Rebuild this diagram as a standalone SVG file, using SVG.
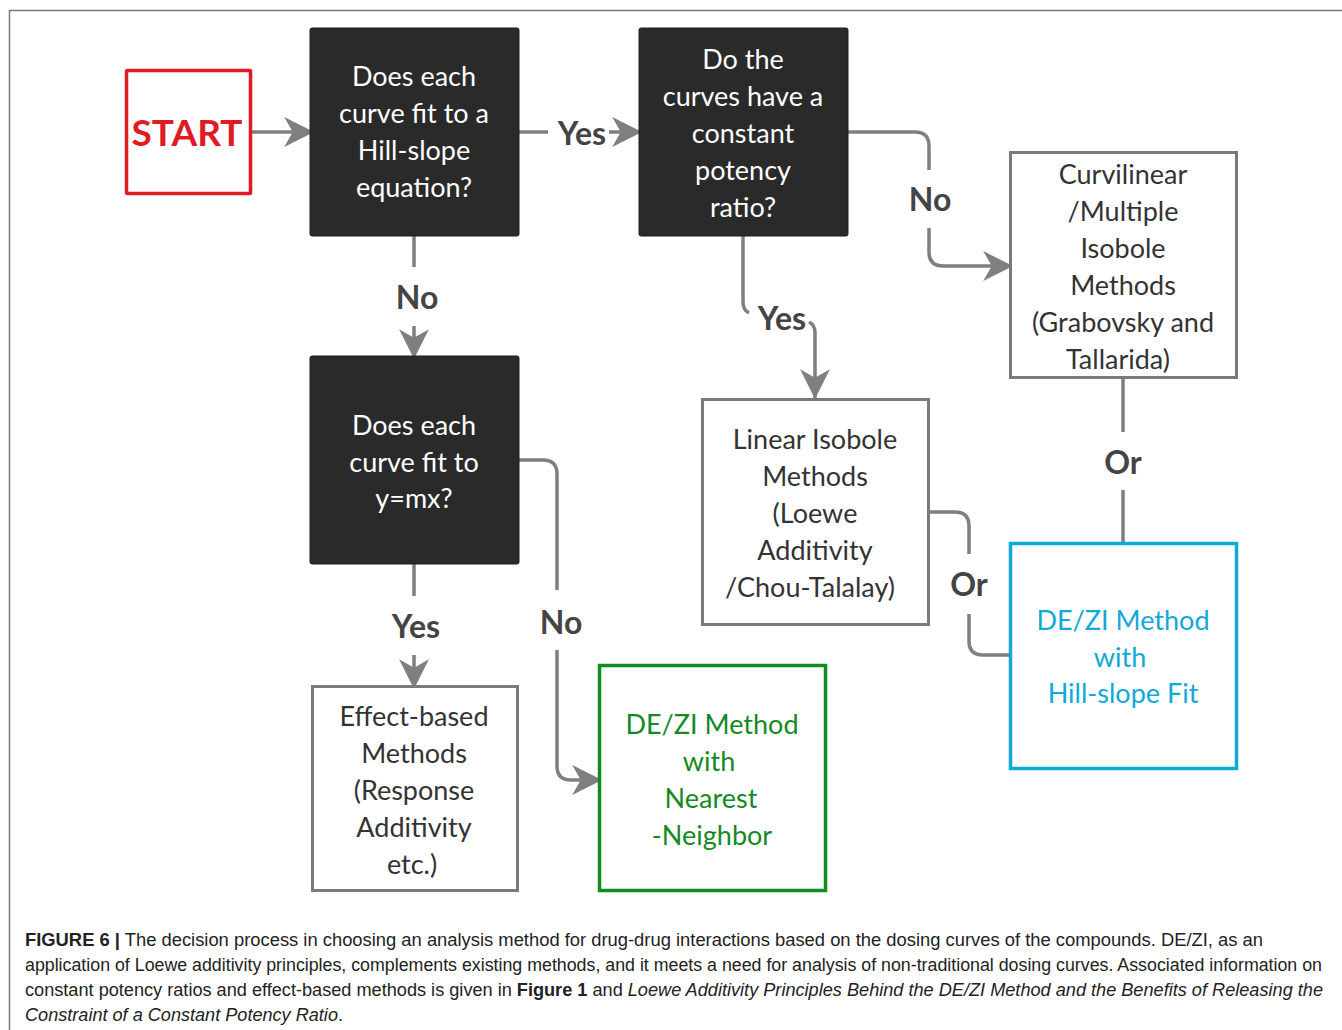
<svg xmlns="http://www.w3.org/2000/svg" width="1342" height="1030" viewBox="0 0 1342 1030">
<style>
.t{font-family:Lato,"Liberation Sans",sans-serif;font-size:27px;text-anchor:middle;dominant-baseline:central}
.w{fill:#ffffff}
.g{fill:#333333}
.lbl{font-family:Lato,"Liberation Sans",sans-serif;font-size:32px;font-weight:700;fill:#444444;text-anchor:middle;dominant-baseline:central}
.dark{fill:#2a2a2a;stroke:#1e1e1e;stroke-width:1}
.plain{fill:#ffffff;stroke:#7a7a7a;stroke-width:3}
.c{fill:none;stroke:#7f7f7f;stroke-width:3.5}
.cap{font-family:"Liberation Sans",Arial,sans-serif;font-size:17.5px;fill:#222222}
</style>
<defs>
<marker id="ah" viewBox="0 0 30 30" refX="28" refY="15" markerWidth="32" markerHeight="32" markerUnits="userSpaceOnUse" orient="auto">
<path d="M1,1 L29,15 L1,29 L9,15 Z" fill="#7f7f7f"/>
</marker>
</defs>
<rect width="1342" height="1030" fill="#ffffff"/>
<path d="M9.5,1030 V10.5 H1342" fill="none" stroke="#7a7a7a" stroke-width="1.5"/>

<g id="connectors">
<path class="c" d="M251,132 H313" marker-end="url(#ah)"/>
<path class="c" d="M519,132 H548"/>
<path class="c" d="M609,132 H641" marker-end="url(#ah)"/>
<text class="lbl" x="582" y="132">Yes</text>
<path class="c" d="M848,132 H915 q14,0 14,14 V170"/>
<text class="lbl" x="930" y="198">No</text>
<path class="c" d="M929,228 V252 q0,14 14,14 H1012" marker-end="url(#ah)"/>
<path class="c" d="M743,236 V302 q0,8 6,11"/>
<text class="lbl" x="782" y="317">Yes</text>
<path class="c" d="M809,322 q6,3 6,11 V398" marker-end="url(#ah)"/>
<path class="c" d="M414,236 V267"/>
<text class="lbl" x="417" y="296">No</text>
<path class="c" d="M414,326 V358" marker-end="url(#ah)"/>
<path class="c" d="M414,564 V596"/>
<text class="lbl" x="416" y="625">Yes</text>
<path class="c" d="M414,655 V688" marker-end="url(#ah)"/>
<path class="c" d="M519,460 H543 q14,0 14,14 V590"/>
<text class="lbl" x="561" y="621">No</text>
<path class="c" d="M557,650 V766 q0,14 14,14 H601" marker-end="url(#ah)"/>
<path class="c" d="M1123,378 V432"/>
<text class="lbl" x="1123" y="461">Or</text>
<path class="c" d="M1123,490 V543"/>
<path class="c" d="M929,512 H955 q14,0 14,14 V554"/>
<text class="lbl" x="969" y="583">Or</text>
<path class="c" d="M969,614 V641 q0,14 14,14 H1010"/>
</g>

<g id="start">
<rect x="126.5" y="70.5" width="124" height="123" fill="#ffffff" stroke="#e01b24" stroke-width="3.5" rx="1"/>
<text class="t" x="187" y="131" style="font-size:37px;font-weight:700;fill:#e01b24">START</text>
</g>

<g id="q1">
<rect class="dark" x="310" y="28" width="209" height="208" rx="2"/>
<text class="t w" x="414" y="75">Does each</text>
<text class="t w" x="414" y="112">curve fit to a</text>
<text class="t w" x="414" y="149">Hill-slope</text>
<text class="t w" x="414" y="186">equation?</text>
</g>

<g id="q2">
<rect class="dark" x="639" y="28" width="209" height="208" rx="2"/>
<text class="t w" x="743" y="58">Do the</text>
<text class="t w" x="743" y="95">curves have a</text>
<text class="t w" x="743" y="132">constant</text>
<text class="t w" x="743" y="169">potency</text>
<text class="t w" x="743" y="206">ratio?</text>
</g>

<g id="curvilinear">
<rect class="plain" x="1010.5" y="152.5" width="226" height="225"/>
<text class="t g" x="1123" y="173">Curvilinear</text>
<text class="t g" x="1123" y="210">/Multiple</text>
<text class="t g" x="1123" y="247">Isobole</text>
<text class="t g" x="1123" y="284">Methods</text>
<text class="t g" x="1123" y="321">(Grabovsky and</text>
<text class="t g" x="1118" y="358">Tallarida)</text>
</g>

<g id="linear">
<rect class="plain" x="702.5" y="399.5" width="226" height="225"/>
<text class="t g" x="815" y="438">Linear Isobole</text>
<text class="t g" x="815" y="475">Methods</text>
<text class="t g" x="815" y="512">(Loewe</text>
<text class="t g" x="815" y="549">Additivity</text>
<text class="t g" x="810" y="586">/Chou-Talalay)</text>
</g>

<g id="q3">
<rect class="dark" x="310" y="356" width="209" height="208" rx="2"/>
<text class="t w" x="414" y="424">Does each</text>
<text class="t w" x="414" y="461">curve fit to</text>
<text class="t w" x="414" y="497">y=mx?</text>
</g>

<g id="effect">
<rect class="plain" x="312.5" y="686.5" width="205" height="204"/>
<text class="t g" x="414" y="715">Effect-based</text>
<text class="t g" x="414" y="752">Methods</text>
<text class="t g" x="414" y="789">(Response</text>
<text class="t g" x="414" y="826">Additivity</text>
<text class="t g" x="412" y="863">etc.)</text>
</g>

<g id="nearest">
<rect x="599.5" y="665.5" width="226" height="225" fill="#ffffff" stroke="#138a22" stroke-width="3.5"/>
<text class="t" x="712" y="723" style="fill:#138a22">DE/ZI Method</text>
<text class="t" x="709" y="760" style="fill:#138a22">with</text>
<text class="t" x="711" y="797" style="fill:#138a22">Nearest</text>
<text class="t" x="712" y="834" style="fill:#138a22">-Neighbor</text>
</g>

<g id="hillslope">
<rect x="1010.5" y="543.5" width="226" height="225" fill="#ffffff" stroke="#12a8d8" stroke-width="3.5"/>
<text class="t" x="1123" y="619" style="fill:#12a8d8">DE/ZI Method</text>
<text class="t" x="1120" y="656" style="fill:#12a8d8">with</text>
<text class="t" x="1123" y="692" style="fill:#12a8d8">Hill-slope Fit</text>
</g>

<g id="caption">
<text class="cap" x="25" y="946" textLength="1238" lengthAdjust="spacingAndGlyphs"><tspan font-weight="700">FIGURE 6 |</tspan> The decision process in choosing an analysis method for drug-drug interactions based on the dosing curves of the compounds. DE/ZI, as an</text>
<text class="cap" x="25" y="971" textLength="1297" lengthAdjust="spacingAndGlyphs">application of Loewe additivity principles, complements existing methods, and it meets a need for analysis of non-traditional dosing curves. Associated information on</text>
<text class="cap" x="25" y="996" textLength="1298" lengthAdjust="spacingAndGlyphs">constant potency ratios and effect-based methods is given in <tspan font-weight="700">Figure 1</tspan> and <tspan font-style="italic">Loewe Additivity Principles Behind the DE/ZI Method and the Benefits of Releasing the</tspan></text>
<text class="cap" x="25" y="1021" textLength="318" lengthAdjust="spacingAndGlyphs"><tspan font-style="italic">Constraint of a Constant Potency Ratio</tspan>.</text>
</g>
</svg>
